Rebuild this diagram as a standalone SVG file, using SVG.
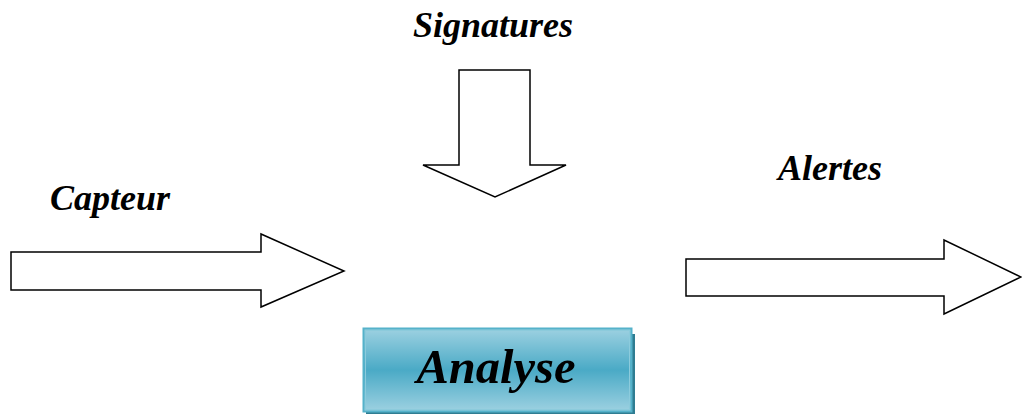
<svg xmlns="http://www.w3.org/2000/svg" width="1022" height="414" viewBox="0 0 1022 414">
  <style>
    .arrow { fill: #ffffff; stroke: #000000; stroke-width: 1.5; stroke-linejoin: miter; }
    .label { font-family: "Liberation Serif", "Times New Roman", serif; font-style: italic; font-weight: bold; font-size: 36px; fill: #000000; text-anchor: middle; }
    .title { font-family: "Liberation Serif", "Times New Roman", serif; font-style: italic; font-weight: bold; font-size: 48.5px; fill: #000000; text-anchor: middle; }
  </style>
  <defs>
    <linearGradient id="boxFill" x1="0" y1="0" x2="0" y2="1">
      <stop offset="0" stop-color="#9dd1e1"/>
      <stop offset="0.5" stop-color="#4aaac6"/>
      <stop offset="1" stop-color="#9dd1e1"/>
    </linearGradient>
  </defs>
  <rect width="1022" height="414" fill="#ffffff"/>

  <g id="connectors">
    <!-- sensor input arrow -->
    <polygon id="arrow-capteur" class="arrow" points="11,252 261,252 261,234 344,271 261,307 261,290 11,290"/>
    <!-- signatures input arrow -->
    <polygon id="arrow-signatures" class="arrow" points="459,70 530,70 530,165 566,165 495,197 423,165 459,165"/>
    <!-- alerts output arrow -->
    <polygon id="arrow-alertes" class="arrow" points="686,259 944,259 944,240 1021,277 944,314 944,296 686,296"/>
  </g>

  <g id="label-capteur">
    <text class="label" x="110" y="210">Capteur</text>
  </g>
  <g id="label-signatures">
    <text class="label" x="493" y="37">Signatures</text>
  </g>
  <g id="label-alertes">
    <text class="label" x="830" y="180">Alertes</text>
  </g>

  <g id="node-analyse">
    <rect x="366" y="334" width="269" height="81" fill="#2f7d92"/>
    <rect x="363.5" y="328.5" width="268" height="83" fill="url(#boxFill)" stroke="#55b2ca" stroke-width="2"/>
    <rect x="365.5" y="330.5" width="264" height="79" fill="none" stroke="#8ccbdc" stroke-width="1"/>
    <text class="title" x="496" y="383">Analyse</text>
  </g>
</svg>
